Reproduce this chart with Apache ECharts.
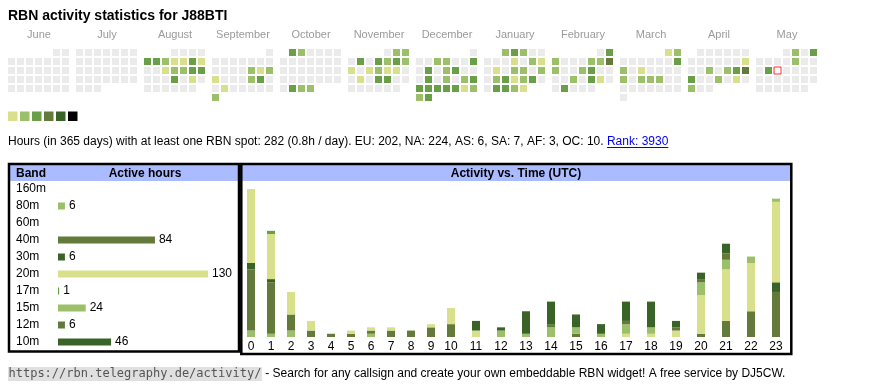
<!DOCTYPE html>
<html><head><meta charset="utf-8">
<script src="https://cdn.jsdelivr.net/npm/echarts@6/dist/echarts.min.js"></script>
<style>html,body{margin:0;padding:0;background:#fff}#c{width:870px;height:390px}</style>
</head><body><div id="c"></div>
<script>
// ---------------- data ----------------
const callsign = 'J88BTI';
const monthNames = ['June','July','August','September','October','November','December','January','February','March','April','May'];
const monthKeys = ['2024-06','2024-07','2024-08','2024-09','2024-10','2024-11','2024-12','2025-01','2025-02','2025-03','2025-04','2025-05'];
const today = '2025-05-14';
// activity level per day (0 = none, 1..5 = increasing activity)
const jun2024 = [0,0,0,0,0,0,0,0,0,0,0,0,0,0,0,0,0,0,0,0,0,0,0,0,0,0,0,0,0,0];
const jul2024 = [0,0,0,0,0,0,0,0,0,0,0,0,0,0,0,0,0,0,0,0,0,0,0,0,0,0,0,0,0,0,0];
const aug2024 = [0,0,0,0, 3,3,2,1,1,3,1, 0,0,1,2,2,3,3, 0,0,0,3,0,1,0, 0,0,0,0,0,0];
const sep2024 = [0, 0,0,0,0,0,0,0, 0,0,0,0,2,1,2, 1,0,0,0,2,3,0, 0,1,0,0,0,0,0, 2];
const oct2024 = [3,2,0,0,0,0, 0,0,0,0,0,0,0, 0,0,0,0,0,0,0, 0,0,0,0,0,0,0, 0,3,2,2];
const nov2024 = [0,2,2, 0,3,0,3,2,3,2, 1,0,1,2,1,1,0, 0,1,0,3,3,0,0, 0,0,0,0,0,0];
const dec2024 = [0, 0,0,2,2,0,0,3, 0,3,0,2,3,0,0, 0,3,0,2,0,2,3, 3,3,3,3,3,1,2, 2,3];
const jan2025 = [2,3,2,0,0, 0,0,0,1,0,2,1, 0,1,0,2,2,0,2, 0,2,3,1,2,3,0, 0,3,3,2,1];
const feb2025 = [0,3, 2,0,0,0,2,2,4, 2,0,0,2,3,0,0, 0,0,2,0,3,1,0, 0,3,0,0,0];
const mar2025 = [1,2, 0,0,0,0,0,0,3, 2,0,1,0,0,0,0, 2,0,2,2,2,0,0, 0,0,0,0,0,0,0, 0];
const apr2025 = [0,0,0,0,0,0, 0,0,0,0,0,0,1, 0,0,2,0,2,3,4, 3,0,0,2,0,1,0, 2,0,0];
const may2025 = [0,2,0,3, 0,0,0,0,2,0,0, 0,3,0,0,0,0,0, 0,0,0,0,0,0,0, 0,0,0,0,0,0];
const levelColors = ['#ebebeb','#d9e08c','#9cbf69','#69a047','#637a3b','#3a6427','#000000'];

const totalHours = 282, perDay = '0.8';
const continents = ['EU','NA','AS','SA','AF','OC'];
const continentHours = [202,224,6,7,3,10];
const rank = 3930;

const bands = ['160m','80m','60m','40m','30m','20m','17m','15m','12m','10m'];
const bandHours = [0,6,0,84,6,130,1,24,6,46];
const bandColors = ['#d9e08c','#9cbf69','#69a047','#637a3b','#3a6427','#d9e08c','#69a047','#9cbf69','#637a3b','#3a6427'];

const hours = ['0','1','2','3','4','5','6','7','8','9','10','11','12','13','14','15','16','17','18','19','20','21','22','23'];
const h160m = [0,0,0,0,0,0,0,0,0,0,0,0,0,0,0,0,0,0,0,0,0,0,0,0];
const h80m  = [2,1,2,0,0,0,1,0,0,0,0,0,0,0,0,0,0,0,0,0,0,0,0,0];
const h60m  = [0,0,0,0,0,0,0,0,0,0,0,0,0,0,0,0,0,0,0,0,0,0,0,0];
const h40m  = [19,16,5,2,1,1,1,2,2,3,4,0,0,0,0,1,0,0,0,0,1,5,8,14];
const h30m  = [2,1,0,0,0,0,0,0,0,0,0,0,0,0,0,0,0,0,0,0,0,0,0,3];
const h20m  = [23,14,7,3,0,1,1,1,0,1,5,2,0,0,0,0,0,1,1,2,12,16,15,25];
const h17m  = [0,1,0,0,0,0,0,0,0,0,0,0,0,0,0,0,0,0,0,0,0,0,0,0];
const h15m  = [0,0,0,0,0,0,0,0,0,0,0,0,2,1,3,2,1,3,2,0,4,3,2,1];
const h12m  = [0,0,0,0,0,0,0,0,0,0,0,0,0,0,1,0,0,1,0,1,1,2,0,0];
const h10m  = [0,0,0,0,0,0,0,0,0,0,0,3,1,7,7,4,3,6,8,2,2,3,0,0];

// ---------------- build ----------------
const FONT = '"Liberation Sans", Arial, sans-serif';
const monthLevels = [jun2024,jul2024,aug2024,sep2024,oct2024,nov2024,dec2024,jan2025,feb2025,mar2025,apr2025,may2025];
const hourly = [h160m,h80m,h60m,h40m,h30m,h20m,h17m,h15m,h12m,h10m];
const pad = n => (n < 10 ? '0' : '') + n;

const calendars = monthKeys.map((k, i) => ({
  orient: 'vertical', range: k, left: 7 + 68 * i, top: 48, cellSize: [9, 9],
  splitLine: { show: false },
  itemStyle: { color: '#ebebeb', borderColor: '#fff', borderWidth: 2 },
  dayLabel: { show: false, firstDay: 1 }, monthLabel: { show: false }, yearLabel: { show: false }
}));

const series = [];
monthLevels.forEach((arr, i) => {
  series.push({
    type: 'heatmap', coordinateSystem: 'calendar', calendarIndex: i, silent: true,
    itemStyle: { borderWidth: 0 },
    data: arr.map((v, d) => [monthKeys[i] + '-' + pad(d + 1), v])
  });
});
const todayMonth = monthKeys.indexOf(today.slice(0, 7));
series.push({
  type: 'scatter', coordinateSystem: 'calendar', calendarIndex: todayMonth, silent: true,
  symbol: 'rect', symbolSize: 7, z: 5,
  itemStyle: { color: '#fff', borderColor: '#ff0000', borderWidth: 1 },
  data: [[today, 1]]
});

// band bars
series.push({
  type: 'bar', xAxisIndex: 0, yAxisIndex: 0, barWidth: 7, silent: true,
  data: bandHours.map((v, i) => ({ value: v, itemStyle: { color: bandColors[i] } })),
  label: { show: true, position: 'right', distance: 4, fontSize: 12, fontFamily: FONT, color: '#000',
           formatter: p => (p.value ? String(p.value) : '') }
});

// hourly stacked bars, split in two grids (0-9 narrow columns, 10-23 wide columns)
const split = 10;
bands.forEach((b, bi) => {
  series.push({ type: 'bar', name: b, stack: 'a', xAxisIndex: 1, yAxisIndex: 1, barWidth: 8, silent: true,
    itemStyle: { color: bandColors[bi] }, data: hourly[bi].slice(0, split) });
  series.push({ type: 'bar', name: b, stack: 'b', xAxisIndex: 2, yAxisIndex: 2, barWidth: 8, silent: true,
    itemStyle: { color: bandColors[bi] }, data: hourly[bi].slice(split) });
});
const totals = hours.map((h, i) => hourly.reduce((s, a) => s + a[i], 0));
const maxTotal = Math.max(...totals);

const catAxis = (gi, data) => ({
  gridIndex: gi, type: 'category', data, axisLine: { show: false }, axisTick: { show: false },
  axisLabel: { fontSize: 12, fontFamily: FONT, color: '#000', margin: 4 }
});

// ---------------- graphics (texts, frames) ----------------
const ctx = document.createElement('canvas').getContext('2d');
ctx.font = '12px ' + FONT;
const infoText = 'Hours (in 365 days) with at least one RBN spot: ' + totalHours + ' (' + perDay + 'h / day). ' +
  continents.map((c, i) => c + ': ' + continentHours[i]).join(', ') + '. ';
const infoW = ctx.measureText(infoText).width;
const rankText = 'Rank: ' + rank;
const rankW = ctx.measureText(rankText).width;
ctx.font = '12px "DejaVu Sans Mono", monospace';
const urlText = 'https://rbn.telegraphy.de/activity/';
const urlW = ctx.measureText(urlText).width;

const graphic = [];
graphic.push({ type: 'text', x: 8, y: 16, style: { text: 'RBN activity statistics for ' + callsign,
  font: 'bold 14px ' + FONT, fill: '#000', textVerticalAlign: 'middle' } });
monthNames.forEach((m, i) => graphic.push({ type: 'text', x: 8 + 68 * i + 31, y: 35,
  style: { text: m, font: '11px ' + FONT, fill: '#9a9a9a', textAlign: 'center', textVerticalAlign: 'middle' } }));
levelColors.slice(1).forEach((c, i) => graphic.push({ type: 'rect', shape: { x: 8 + 12 * i, y: 111.5, width: 9.5, height: 9.5 },
  style: { fill: c } }));
graphic.push({ type: 'text', x: 8, y: 142, style: { text: infoText, font: '12px ' + FONT, fill: '#000', textVerticalAlign: 'middle' } });
graphic.push({ type: 'text', x: 8 + infoW, y: 142, style: { text: rankText, font: '12px ' + FONT, fill: '#0000ee', textVerticalAlign: 'middle' } });
graphic.push({ type: 'line', shape: { x1: 8 + infoW, y1: 147.5, x2: 8 + infoW + rankW, y2: 147.5 }, style: { stroke: '#0000ee', lineWidth: 1 } });

// left panel
graphic.push({ type: 'rect', z: -1, shape: { x: 10, y: 165, width: 228, height: 16 }, style: { fill: '#aabbff' } });
graphic.push({ type: 'rect', z: 10, shape: { x: 9, y: 164, width: 230, height: 187.5 }, style: { fill: 'none', stroke: '#000', lineWidth: 2.5 } });
graphic.push({ type: 'text', x: 16, y: 173.5, style: { text: 'Band', font: 'bold 12px ' + FONT, fill: '#000', textVerticalAlign: 'middle' } });
graphic.push({ type: 'text', x: 145, y: 173.5, style: { text: 'Active hours', font: 'bold 12px ' + FONT, fill: '#000', textAlign: 'center', textVerticalAlign: 'middle' } });
// right panel
graphic.push({ type: 'rect', z: -1, shape: { x: 242, y: 165, width: 548, height: 16 }, style: { fill: '#aabbff' } });
graphic.push({ type: 'rect', z: 10, shape: { x: 241.3, y: 164, width: 550, height: 190 }, style: { fill: 'none', stroke: '#000', lineWidth: 2.5 } });
graphic.push({ type: 'text', x: 516, y: 173.5, style: { text: 'Activity vs. Time (UTC)', font: 'bold 12px ' + FONT, fill: '#000', textAlign: 'center', textVerticalAlign: 'middle' } });

// footer
graphic.push({ type: 'rect', shape: { x: 8, y: 367, width: urlW + 1, height: 14 }, style: { fill: '#e0e0e0' } });
graphic.push({ type: 'text', x: 8.5, y: 374, style: { text: urlText, font: '12px "DejaVu Sans Mono", monospace', fill: '#555', textVerticalAlign: 'middle' } });
graphic.push({ type: 'text', x: 9 + urlW, y: 374, style: { text: ' - Search for any callsign and create your own embeddable RBN widget! A free service by DJ5CW.',
  font: '12px ' + FONT, fill: '#000', textVerticalAlign: 'middle' } });

const option = {
  animation: false,
  backgroundColor: '#fff',
  calendar: calendars,
  visualMap: { type: 'piecewise', show: false, dimension: 1, seriesIndex: monthLevels.map((a, i) => i),
    pieces: levelColors.map((c, i) => ({ value: i, color: c })) },
  grid: [
    { left: 58, top: 180.5, width: 150, height: 170 },
    { left: 241, top: 337 - 148, width: 200, height: 148 },
    { left: 438.5, top: 337 - 148, width: 350, height: 148 }
  ],
  xAxis: [
    { gridIndex: 0, type: 'value', min: 0, max: Math.max(...bandHours), show: false },
    catAxis(1, hours.slice(0, split)),
    catAxis(2, hours.slice(split))
  ],
  yAxis: [
    { gridIndex: 0, type: 'category', data: bands, inverse: true, axisLine: { show: false }, axisTick: { show: false },
      axisLabel: { align: 'left', margin: 42, fontSize: 12, fontFamily: FONT, color: '#000' } },
    { gridIndex: 1, type: 'value', min: 0, max: maxTotal, show: false },
    { gridIndex: 2, type: 'value', min: 0, max: maxTotal, show: false }
  ],
  graphic: graphic,
  series: series
};
const chart = echarts.init(document.getElementById('c'), null, { width: 870, height: 390 });
chart.setOption(option);
</script>
</body></html>
